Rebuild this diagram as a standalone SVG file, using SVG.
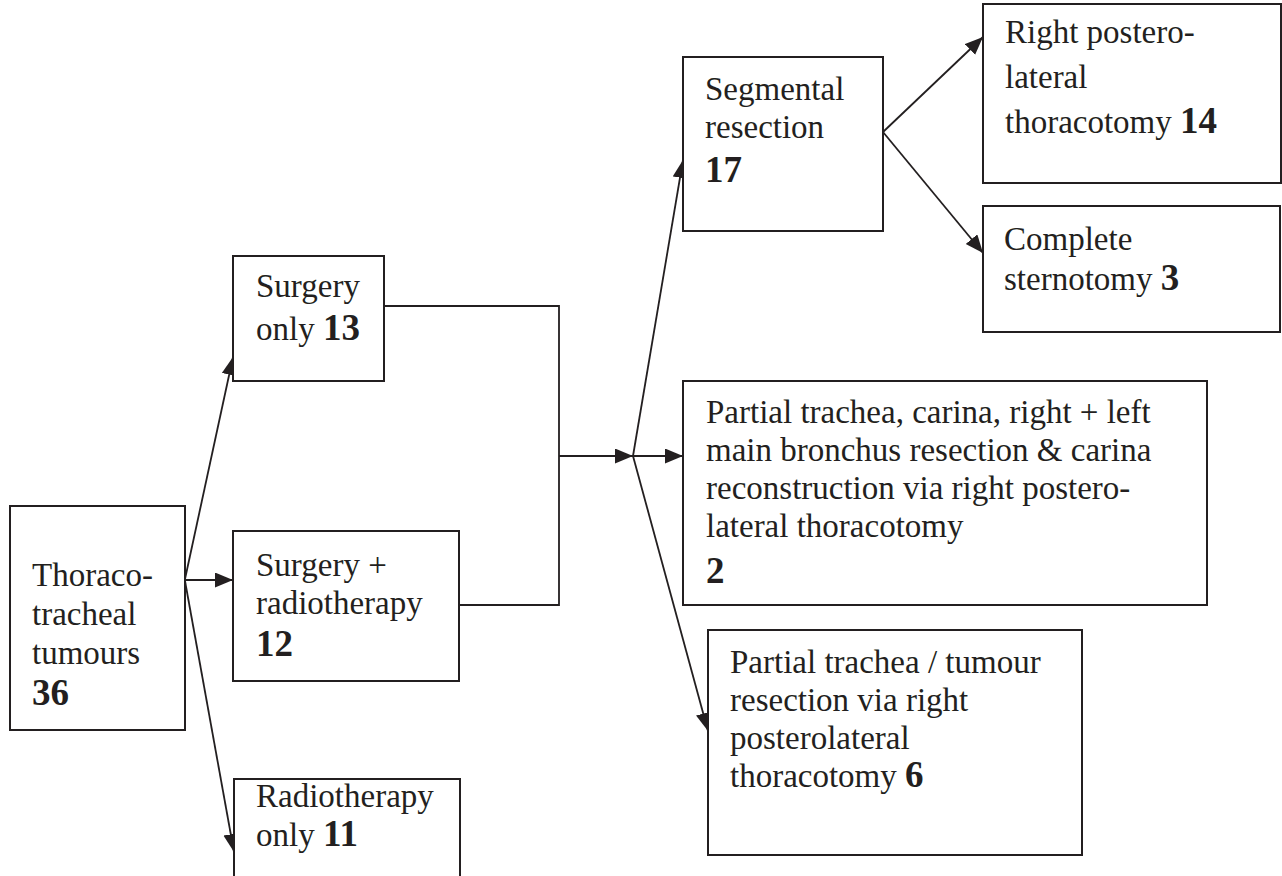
<svg xmlns="http://www.w3.org/2000/svg" width="1282" height="876" viewBox="0 0 1282 876">
<style>
.box{fill:#fff;stroke:#231f20;stroke-width:2}
.t{font-family:"Liberation Serif","Times New Roman",serif;font-size:33px;fill:#231f20}
.b{font-weight:bold;font-size:37px}
.c{fill:none;stroke:#231f20;stroke-width:1.8}
</style>
<defs>
<marker id="ah" markerUnits="userSpaceOnUse" markerWidth="19" markerHeight="16" refX="18" refY="7.5" orient="auto">
<path d="M0,0 L18,7.5 L0,15 z" fill="#231f20"/>
</marker>
</defs>
<rect width="1282" height="876" fill="#fff"/>
<g id="connectors">
<line class="c" x1="185" y1="579" x2="233" y2="357" marker-end="url(#ah)"/>
<line class="c" x1="185" y1="580" x2="233" y2="580" marker-end="url(#ah)"/>
<line class="c" x1="185" y1="581" x2="234" y2="852" marker-end="url(#ah)"/>
<polyline class="c" points="384,306 559,306 559,605 459,605"/>
<line class="c" x1="559" y1="456" x2="633" y2="456" marker-end="url(#ah)"/>
<line class="c" x1="633" y1="456" x2="683" y2="456" marker-end="url(#ah)"/>
<line class="c" x1="633" y1="456" x2="683" y2="160" marker-end="url(#ah)"/>
<line class="c" x1="633" y1="456" x2="708" y2="731" marker-end="url(#ah)"/>
<line class="c" x1="883" y1="132" x2="983" y2="37" marker-end="url(#ah)"/>
<line class="c" x1="883" y1="132" x2="983" y2="253" marker-end="url(#ah)"/>
</g>
<g id="n-thoraco">
<rect class="box" x="10" y="506" width="175" height="224"/>
<text class="t" x="32" y="586">Thoraco-</text>
<text class="t" x="32" y="625">tracheal</text>
<text class="t" x="32" y="664">tumours</text>
<text class="t b" x="32" y="705">36</text>
</g>
<g id="n-surgery-only">
<rect class="box" x="233" y="256" width="151" height="125"/>
<text class="t" x="256" y="297">Surgery</text>
<text class="t" x="256" y="340">only <tspan class="b">13</tspan></text>
</g>
<g id="n-surgery-radio">
<rect class="box" x="233" y="531" width="226" height="150"/>
<text class="t" x="256" y="576">Surgery +</text>
<text class="t" x="256" y="614">radiotherapy</text>
<text class="t b" x="256" y="656">12</text>
</g>
<g id="n-radio-only">
<rect class="box" x="234" y="779" width="226" height="110"/>
<text class="t" x="256" y="807">Radiotherapy</text>
<text class="t" x="256" y="846">only <tspan class="b">11</tspan></text>
</g>
<g id="n-segmental">
<rect class="box" x="683" y="57" width="200" height="174"/>
<text class="t" x="705" y="100">Segmental</text>
<text class="t" x="705" y="138">resection</text>
<text class="t b" x="705" y="182">17</text>
</g>
<g id="n-right-postero">
<rect class="box" x="983" y="4" width="298" height="179"/>
<text class="t" x="1005" y="43">Right postero-</text>
<text class="t" x="1005" y="88">lateral</text>
<text class="t" x="1005" y="133">thoracotomy <tspan class="b">14</tspan></text>
</g>
<g id="n-complete">
<rect class="box" x="983" y="206" width="297" height="126"/>
<text class="t" x="1004" y="250">Complete</text>
<text class="t" x="1004" y="290">sternotomy <tspan class="b">3</tspan></text>
</g>
<g id="n-carina">
<rect class="box" x="683" y="381" width="524" height="224"/>
<text class="t" x="706" y="423">Partial trachea, carina, right + left</text>
<text class="t" x="706" y="461">main bronchus resection &amp; carina</text>
<text class="t" x="706" y="499">reconstruction via right postero-</text>
<text class="t" x="706" y="537">lateral thoracotomy</text>
<text class="t b" x="706" y="583">2</text>
</g>
<g id="n-tumour">
<rect class="box" x="708" y="630" width="374" height="225"/>
<text class="t" x="730" y="673">Partial trachea / tumour</text>
<text class="t" x="730" y="711">resection via right</text>
<text class="t" x="730" y="749">posterolateral</text>
<text class="t" x="730" y="787">thoracotomy <tspan class="b">6</tspan></text>
</g>
</svg>
